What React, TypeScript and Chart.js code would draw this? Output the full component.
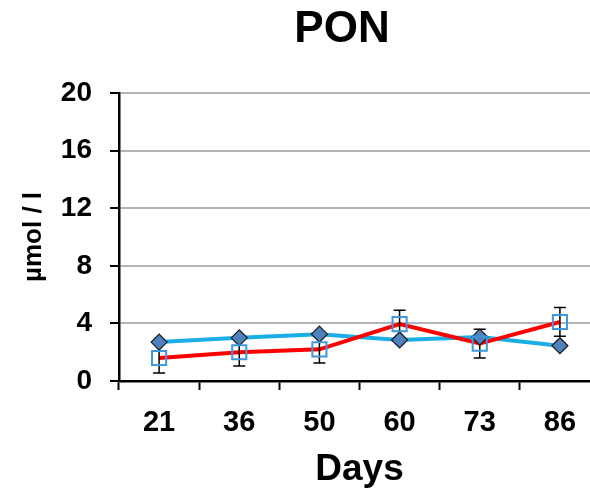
import React, { useEffect, useRef } from "react";
import { Chart, registerables } from "chart.js";

Chart.register(...registerables);

// Sampling days
const days = ["21", "36", "50", "60", "73", "86"];
// Series A (diamonds, cyan line)
const seriesA = [2.7, 3.0, 3.25, 2.85, 3.05, 2.45];
// Series B (open squares, red line)
const seriesB = [1.6, 2.0, 2.2, 3.95, 2.6, 4.1];
// Standard deviation of series B
const seriesBErr = [1.05, 0.95, 0.95, 0.97, 1.0, 1.0];
// Y ticks
const yMin = 0;
const yMax = 20;
const yStep = 4;

const FONT = "Liberation Sans, Arial, Helvetica, sans-serif";

const errorBars = {
  id: "errorBars",
  afterDatasetDraw(chart: any, args: any) {
    if (args.index !== 1) return;
    const { ctx, scales } = chart;
    const x = scales.x;
    const y = scales.y;
    ctx.save();
    ctx.strokeStyle = "#000";
    ctx.lineWidth = 1.5;
    seriesB.forEach((v, i) => {
      const px = x.getPixelForValue(i);
      const top = y.getPixelForValue(v + seriesBErr[i]);
      const bot = y.getPixelForValue(v - seriesBErr[i]);
      ctx.beginPath();
      ctx.moveTo(px, top);
      ctx.lineTo(px, bot);
      ctx.moveTo(px - 6, top);
      ctx.lineTo(px + 6, top);
      ctx.moveTo(px - 6, bot);
      ctx.lineTo(px + 6, bot);
      ctx.stroke();
    });
    ctx.restore();
  },
};

const chartTitle = {
  id: "chartTitle",
  afterDraw(chart: any) {
    const { ctx } = chart;
    ctx.save();
    ctx.fillStyle = "#000";
    ctx.font = `bold 44px ${FONT}`;
    ctx.textAlign = "center";
    ctx.textBaseline = "middle";
    ctx.fillText("PON", 342, 30);
    ctx.restore();
  },
};

export default function App() {
  const ref = useRef<HTMLCanvasElement>(null);

  useEffect(() => {
    if (!ref.current) return;
    const chart = new Chart(ref.current, {
      type: "line",
      data: {
        labels: days,
        datasets: [
          {
            data: seriesA,
            borderColor: "#1aaee5",
            borderWidth: 4,
            pointRadius: 0,
            order: 5,
          },
          {
            data: seriesB,
            borderColor: "#ff0000",
            borderWidth: 4,
            pointRadius: 0,
            order: 4,
          },
          {
            data: seriesA,
            showLine: false,
            pointStyle: "rectRot",
            pointRadius: 8,
            pointBackgroundColor: "#4f81bd",
            pointBorderColor: "#1a1a1a",
            pointBorderWidth: 1.2,
            order: 2,
          },
          {
            data: seriesB,
            showLine: false,
            pointStyle: "rect",
            pointRadius: 10,
            pointBackgroundColor: "rgba(0,0,0,0)",
            pointBorderColor: "#3f97dc",
            pointBorderWidth: 2,
            order: 1,
          },
        ],
      },
      options: {
        animation: false,
        responsive: false,
        layout: { padding: { top: 93, right: 0, left: 0, bottom: 0 } },
        plugins: {
          legend: { display: false },
          tooltip: { enabled: false },
        },
        scales: {
          x: {
            type: "category",
            offset: true,
            grid: {
              offset: true,
              drawOnChartArea: false,
              drawTicks: true,
              tickLength: 9,
              tickColor: "#000",
              tickWidth: 2,
            },
            border: { color: "#000", width: 2.5 },
            ticks: {
              color: "#000",
              font: { family: FONT, size: 29, weight: "bold" },
              padding: 16,
              maxRotation: 0,
            },
            title: {
              display: true,
              text: "Days",
              color: "#000",
              font: { family: FONT, size: 37, weight: "bold" },
              padding: { top: 0, bottom: 0 },
            },
            afterFit(scale: any) {
              scale.height = 111;
            },
          },
          y: {
            min: yMin,
            max: yMax,
            ticks: {
              stepSize: yStep,
              color: "#000",
              font: { family: FONT, size: 28, weight: "bold" },
              padding: 18,
            },
            grid: {
              color: "#b3b3b3",
              lineWidth: 2,
              drawTicks: true,
              tickLength: 9,
              tickColor: "#000",
              tickWidth: 2,
            },
            border: { color: "#000", width: 2.5 },
            title: {
              display: true,
              text: "µmol / l",
              color: "#000",
              font: { family: FONT, size: 26, weight: "bold" },
              padding: { top: 18, bottom: 0 },
            },
            afterFit(scale: any) {
              scale.width = 119;
            },
          },
        },
      },
      plugins: [errorBars, chartTitle],
    });
    return () => chart.destroy();
  }, []);

  return (
    <div
      style={{
        position: "fixed",
        left: 0,
        top: 0,
        width: 590,
        height: 492,
        overflow: "hidden",
        background: "#fff",
      }}
    >
      <canvas ref={ref} width={612} height={492} style={{ display: "block" }} />
    </div>
  );
}
